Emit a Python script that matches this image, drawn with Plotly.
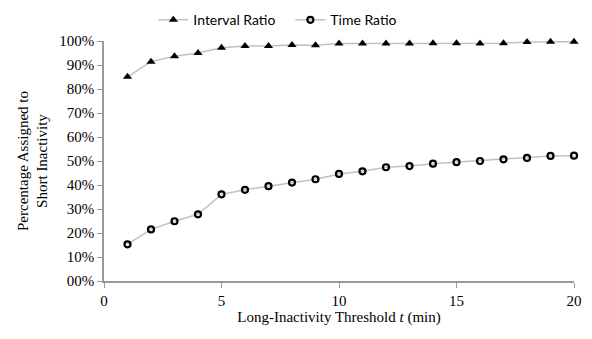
import plotly.graph_objects as go

thresholds = list(range(1, 21))
interval_ratio = [85.1, 91.4, 93.6, 95.0, 97.2, 97.9, 97.9, 98.3, 98.2, 99.0,
                  99.0, 99.0, 99.0, 99.1, 99.1, 99.0, 99.1, 99.6, 99.7, 99.7]
time_ratio = [15.3, 21.5, 24.9, 27.8, 36.1, 38.0, 39.5, 41.0, 42.4, 44.6,
              45.7, 47.4, 47.9, 48.9, 49.5, 50.0, 50.7, 51.3, 52.1, 52.2]
y_tick_vals = [0, 10, 20, 30, 40, 50, 60, 70, 80, 90, 100]
y_tick_text = ["00%", "10%", "20%", "30%", "40%", "50%", "60%", "70%", "80%", "90%", "100%"]
x_tick_vals = [0, 5, 10, 15, 20]
x_tick_text = ["0", "5", "10", "15", "20"]

line_color = "#C0C0C0"
serif = "Liberation Serif"

fig = go.Figure()
fig.add_trace(go.Scatter(
    x=thresholds, y=interval_ratio, name="Interval Ratio", mode="lines+markers",
    line=dict(color=line_color, width=1.5),
    marker=dict(symbol="triangle-up", size=8, color="black"),
    cliponaxis=False,
))
fig.add_trace(go.Scatter(
    x=thresholds, y=time_ratio, name="Time Ratio", mode="lines+markers",
    line=dict(color=line_color, width=1.5),
    marker=dict(symbol="circle-open", size=6, color="black", line=dict(width=2.2, color="black")),
    cliponaxis=False,
))

fig.update_layout(
    width=584, height=331,
    margin=dict(l=96, r=18, t=33, b=58, autoexpand=False),
    paper_bgcolor="white", plot_bgcolor="white",
    showlegend=True,
    legend=dict(orientation="h", x=0.105, xanchor="left", y=1.02, yanchor="bottom",
                font=dict(family="Lato", size=14, color="black"),
                bgcolor="rgba(0,0,0,0)", itemwidth=30, entrywidth=92, entrywidthmode="pixels"),
    font=dict(family=serif, size=15, color="black"),
)

fig.update_xaxes(
    range=[0, 20], tickvals=x_tick_vals, ticktext=x_tick_text, ticks="outside", ticklen=5,
    tickcolor="#999999",
    showline=True, linecolor="#999999", linewidth=1.5, showgrid=False, zeroline=False,
    tickfont=dict(family=serif, size=15, color="black"), automargin=False,
    title=dict(text="Long-Inactivity Threshold <i>t</i> (min)", font=dict(family=serif, size=15), standoff=4),
)
fig.update_yaxes(
    range=[0, 100], tickvals=y_tick_vals, ticktext=y_tick_text, ticks="outside", ticklen=5,
    tickcolor="#999999", showline=True, linecolor="#999999", linewidth=1.5,
    showgrid=False, zeroline=False, automargin=False,
    tickfont=dict(family=serif, size=15, color="black"),
    title=dict(text="Percentage Assigned to<br>Short Inactivity", font=dict(family=serif, size=15), standoff=8),
)

fig.write_html("out.html")
